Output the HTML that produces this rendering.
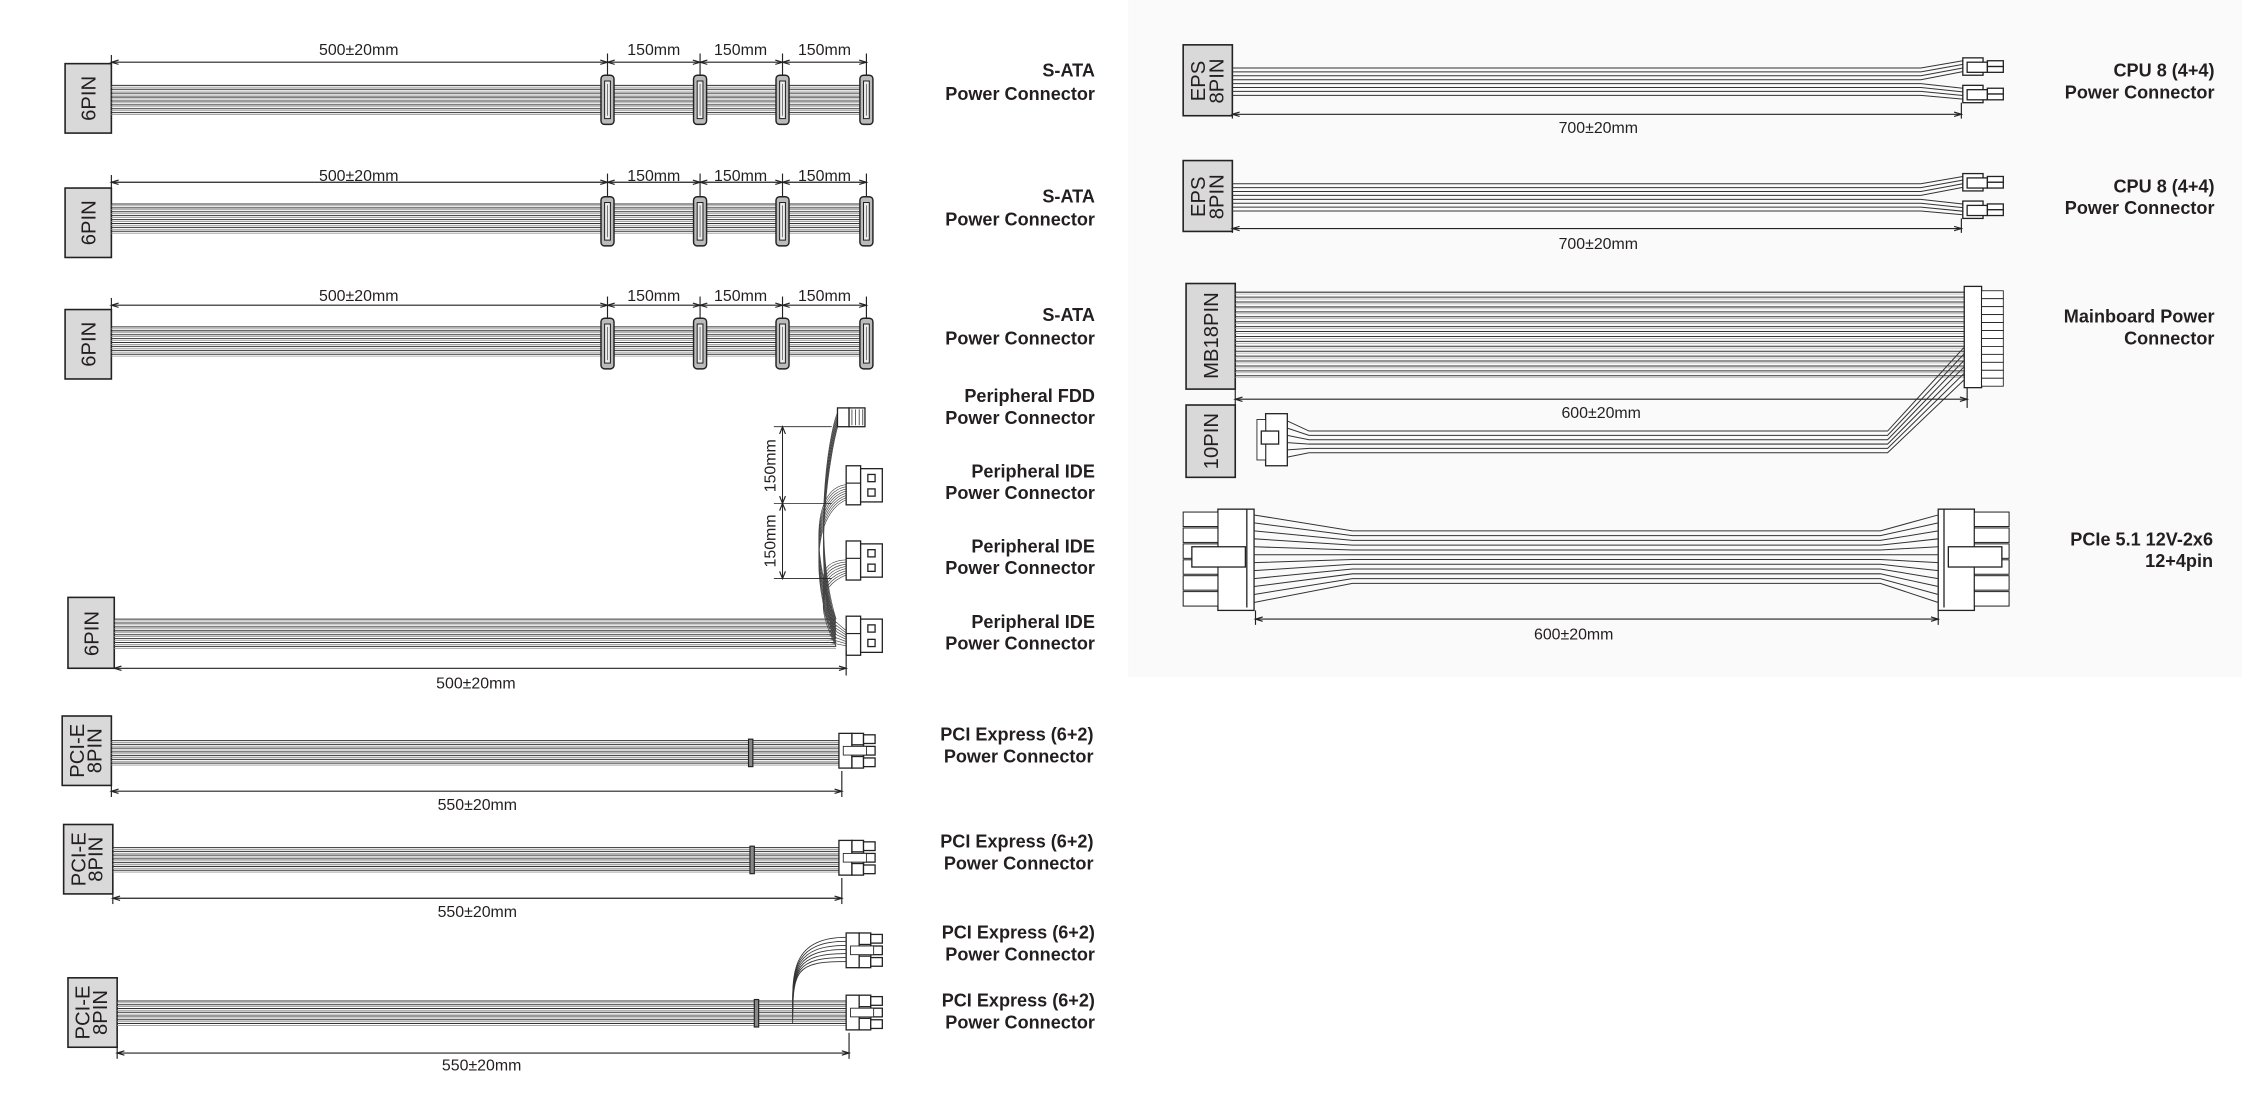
<!DOCTYPE html>
<html><head><meta charset="utf-8">
<style>
html,body{margin:0;padding:0;background:#fff;}
svg{display:block;}
.lb{font-family:"Liberation Sans",sans-serif;font-weight:bold;font-size:12.5px;fill:#231f20;}
.dm{font-family:"Liberation Sans",sans-serif;font-size:11px;fill:#231f20;}
.bx{font-family:"Liberation Sans",sans-serif;font-size:14px;fill:#231f20;}
</style></head>
<body>
<svg id="s" width="2268" height="1108" viewBox="0 0 1568 766" preserveAspectRatio="none" xmlns="http://www.w3.org/2000/svg">
<rect x="780" y="0" width="770" height="468" fill="#fafafa"/>
<g id="g" fill="none" stroke="#222" stroke-width="0.8"></g>

<g class="lb" text-anchor="end">
<text x="757" y="53">S-ATA</text><text x="757" y="69">Power Connector</text>
<text x="757" y="140">S-ATA</text><text x="757" y="156">Power Connector</text>
<text x="757" y="222">S-ATA</text><text x="757" y="238">Power Connector</text>
<text x="757" y="278">Peripheral FDD</text><text x="757" y="293">Power  Connector</text>
<text x="757" y="330">Peripheral IDE</text><text x="757" y="345">Power  Connector</text>
<text x="757" y="382">Peripheral IDE</text><text x="757" y="397">Power  Connector</text>
<text x="757" y="434">Peripheral IDE</text><text x="757" y="449">Power  Connector</text>
<text x="756" y="512">PCI Express (6+2)</text><text x="756" y="527">Power Connector</text>
<text x="756" y="586">PCI Express (6+2)</text><text x="756" y="601">Power Connector</text>
<text x="757" y="649">PCI Express (6+2)</text><text x="757" y="664">Power Connector</text>
<text x="757" y="696">PCI Express (6+2)</text><text x="757" y="711">Power Connector</text>
<text x="1531" y="53">CPU 8 (4+4)</text><text x="1531" y="68">Power Connector</text>
<text x="1531" y="133">CPU 8 (4+4)</text><text x="1531" y="148">Power Connector</text>
<text x="1531" y="223">Mainboard Power</text><text x="1531" y="238">Connector</text>
<text x="1530" y="377">PCIe 5.1 12V-2x6</text><text x="1530" y="392">12+4pin</text>
</g>

<g class="dm" text-anchor="middle">
<text x="248" y="38">500±20mm</text><text x="452" y="38">150mm</text><text x="512" y="38">150mm</text><text x="570" y="38">150mm</text>
<text x="248" y="125">500±20mm</text><text x="452" y="125">150mm</text><text x="512" y="125">150mm</text><text x="570" y="125">150mm</text>
<text x="248" y="208">500±20mm</text><text x="452" y="208">150mm</text><text x="512" y="208">150mm</text><text x="570" y="208">150mm</text>
<text x="329" y="476">500±20mm</text>
<text x="330" y="560">550±20mm</text>
<text x="330" y="634">550±20mm</text>
<text x="333" y="740">550±20mm</text>
<text x="1105" y="92">700±20mm</text>
<text x="1105" y="172">700±20mm</text>
<text x="1107" y="289">600±20mm</text>
<text x="1088" y="442">600±20mm</text>
<text transform="translate(536,322) rotate(-90)">150mm</text>
<text transform="translate(536,374) rotate(-90)">150mm</text>
</g>

<g class="bx" text-anchor="middle">
<text transform="translate(66,68) rotate(-90)">6PIN</text>
<text transform="translate(66,154) rotate(-90)">6PIN</text>
<text transform="translate(66,238) rotate(-90)">6PIN</text>
<text transform="translate(68,438) rotate(-90)">6PIN</text>
<text transform="translate(58,519) rotate(-90)">PCI-E</text><text transform="translate(70,519) rotate(-90)">8PIN</text>
<text transform="translate(59,594) rotate(-90)">PCI-E</text><text transform="translate(71,594) rotate(-90)">8PIN</text>
<text transform="translate(62,700) rotate(-90)">PCI-E</text><text transform="translate(74,700) rotate(-90)">8PIN</text>
<text transform="translate(833,56) rotate(-90)">EPS</text><text transform="translate(846,56) rotate(-90)">8PIN</text>
<text transform="translate(833,136) rotate(-90)">EPS</text><text transform="translate(846,136) rotate(-90)">8PIN</text>
<text transform="translate(842,232) rotate(-90)">MB18PIN</text>
<text transform="translate(842,305) rotate(-90)">10PIN</text>
</g>
</svg>
<script>
(function(){
var g=document.getElementById('g'),NS='http://www.w3.org/2000/svg';
function el(t,a){var e=document.createElementNS(NS,t);for(var k in a)e.setAttribute(k,a[k]);g.appendChild(e);return e;}
function L(x1,y1,x2,y2,c,w){el('line',{x1:x1,y1:y1,x2:x2,y2:y2,stroke:c||'#222','stroke-width':w||0.8});}
function R(x,y,w,h,f,sw){el('rect',{x:x,y:y,width:w,height:h,fill:f||'#fff',stroke:'#222','stroke-width':sw||0.9});}
function P(d,c,w){el('path',{d:d,stroke:c||'#222','stroke-width':w||0.8,fill:'none'});}
function box(x,y,w,h){R(x,y,w,h,'#d9d9d9',1.1);}
function arrowH(x1,x2,y){L(x1,y,x2,y,'#222',0.8);P('M'+(x1+5)+' '+(y-1.5)+' L'+x1+' '+y+' L'+(x1+5)+' '+(y+1.5),'#222',0.8);P('M'+(x2-5)+' '+(y-1.5)+' L'+x2+' '+y+' L'+(x2-5)+' '+(y+1.5),'#222',0.8);}
function wires(x1,x2,y0,n,sp){for(var i=0;i<n;i++){var y=y0+i*sp;L(x1,y,x2,y,'#333',0.7);L(x1,y+1.3,x2,y+1.3,'#999',0.6);}}
function sata(x,y1,y2){el('rect',{x:x-4.5,y:y1,width:9,height:y2-y1,rx:2.5,fill:'#bbb',stroke:'#222','stroke-width':1});R(x-2,y1+4,4,y2-y1-8,'#eee',0.7);L(x,y1+6,x,y2-6,'#666',0.6);}
[[43,44,59,52,86],[126,130,141,136,170],[211,214,226,220,255]].forEach(function(r){
 var d=r[0];box(45,r[1],32,48);
 wires(77,600,r[2],8,2.7);
 L(77,d-5,77,r[1]+2);[420,484,541,599].forEach(function(x){L(x,d-6,x,r[3]);});
 arrowH(77,420,d);arrowH(420,484,d);arrowH(484,541,d);arrowH(541,599,d);
 [420,484,541,599].forEach(function(x){sata(x,r[3],r[4]);});
});
box(47,413,32,49);
wires(79,578,428,8,2.7);
for(var i=0;i<8;i++){var y=428+i*2.7;
 P('M578 '+y+' C568 '+(y-20)+' 562 '+(y-40)+' 585 '+(387+i*1.5),'#444',0.45);
 P('M578 '+y+' C562 '+(y-40)+' 560 '+(y-90)+' 585 '+(335+i*1.5),'#444',0.45);
 P('M578 '+y+' C560 '+(y-60)+' 575 '+(y-140)+' 580 '+(284+i*1.2),'#444',0.45);
 P('M572 '+(y-3)+' L585 '+(436+i*1.5),'#444',0.45);
}
function ide(y){R(585,y,10,27);R(595,y+2,15,23);R(600,y+6,5,5);R(600,y+16,5,5);L(585,y+12,595,y+12);}
ide(322);ide(374);ide(426);
R(579,282,8,13);R(587,282,11,13);for(var k=0;k<4;k++)L(589+k*2.5,283,589+k*2.5,294,'#222',0.5);
[295,348,400].forEach(function(y){L(535,y,575,y,'#222',0.6);});
L(541,295,541,400,'#222',0.7);
P('M539 300 L541 295 L543 300');P('M539 343 L541 348 L543 343');P('M539 353 L541 348 L543 353');P('M539 395 L541 400 L543 395');
L(585,450,585,467);arrowH(79,585,462);
function pcie(x,y){R(x,y,9,24);R(x+9,y,8,8);R(x+9,y+8,8,8);R(x+9,y+16,8,8);R(x+17,y+1,8,6);R(x+17,y+9,8,6);R(x+17,y+17,8,6);R(x+3,y+9,16,6,'#fff',0.6);}
[[43,495,512,580,507,547,519],[44,570,586,580,581,621,520],[47,676,692,585,688,728,523]].forEach(function(r){
 box(r[0],r[1],34,48);var xe=r[0]+34;
 wires(xe,r[3],r[2],7,2.6);
 R(r[6]-1.5,r[2]-1,3,19,'#888',0.8);
 pcie(r[3],r[4]);
 L(xe,r[1]+48,xe,r[5]+4);L(r[3]+2,r[4]+26,r[3]+2,r[5]+4);arrowH(xe,r[3]+2,r[5]);
});
pcie(585,645);
for(var i=0;i<7;i++){P('M548 '+(692+i*2.6)+' C548 670 550 '+(648+i*2.8)+' 585 '+(648+i*2.8),'#333',0.6);}
[[31,47,40,59,79],[111,127,120,139,158]].forEach(function(r){
 box(818,r[0],34,49);
 for(var i=0;i<8;i++){var y=r[1]+i*2.7;var ty=(i<4?r[2]+2+i*2.5:r[3]+2+(i-4)*2.5);
  P('M852 '+y+' L1328 '+y+' L1357 '+ty,'#333',0.7);}
 [r[2],r[3]].forEach(function(y){R(1357,y,14,12);R(1360,y+3,14,7);R(1374,y+2,11,4);R(1374,y+6,11,4);});
 L(852,r[0]+49,852,r[4]+3);L(1356,r[3]+12,1356,r[4]+3);arrowH(852,1356,r[4]);
});
box(820,196,34,73);
for(var i=0;i<18;i++){var y=202+i*3.4;L(854,y,1358,y,'#333',0.7);L(854,y+1.3,1358,y+1.3,'#aaa',0.5);}
R(1358,198,12,70);for(var k=0;k<12;k++)R(1370,201+k*5.5,15,5.5,'#fff',0.6);
box(820,280,34,50);
R(875,286,15,36);R(869,290,6,28,'#fff',0.6);R(872,298,12,9);
for(var i=0;i<6;i++){var y=298+i*3;P('M890 '+(291+i*5)+' L905 '+y+' L1305 '+y+' L1358 '+(240+i*4.5),'#333',0.7);}
L(854,269,854,280);L(1360,268,1360,282);arrowH(854,1360,276);
function big(x,dir){R(x,352,25,70);for(var k=0;k<6;k++)R(dir<0?x-24:x+25,354+k*11,24,10,'#fff',0.7);R(dir<0?x-18:x+7,378,37,14);L(dir<0?x+20:x+4,352,dir<0?x+20:x+4,420,'#222',0.9);}
big(842,-1);big(1340,1);
for(var i=0;i<12;i++){var ys=356+i*5.5,ym=367+i*3.3;P('M867 '+ys+' L935 '+ym+' L1300 '+ym+' L1340 '+ys,'#333',0.7);}
L(868,422,868,432);L(1340,422,1340,432);arrowH(868,1340,428);
})();
</script>
</body></html>
